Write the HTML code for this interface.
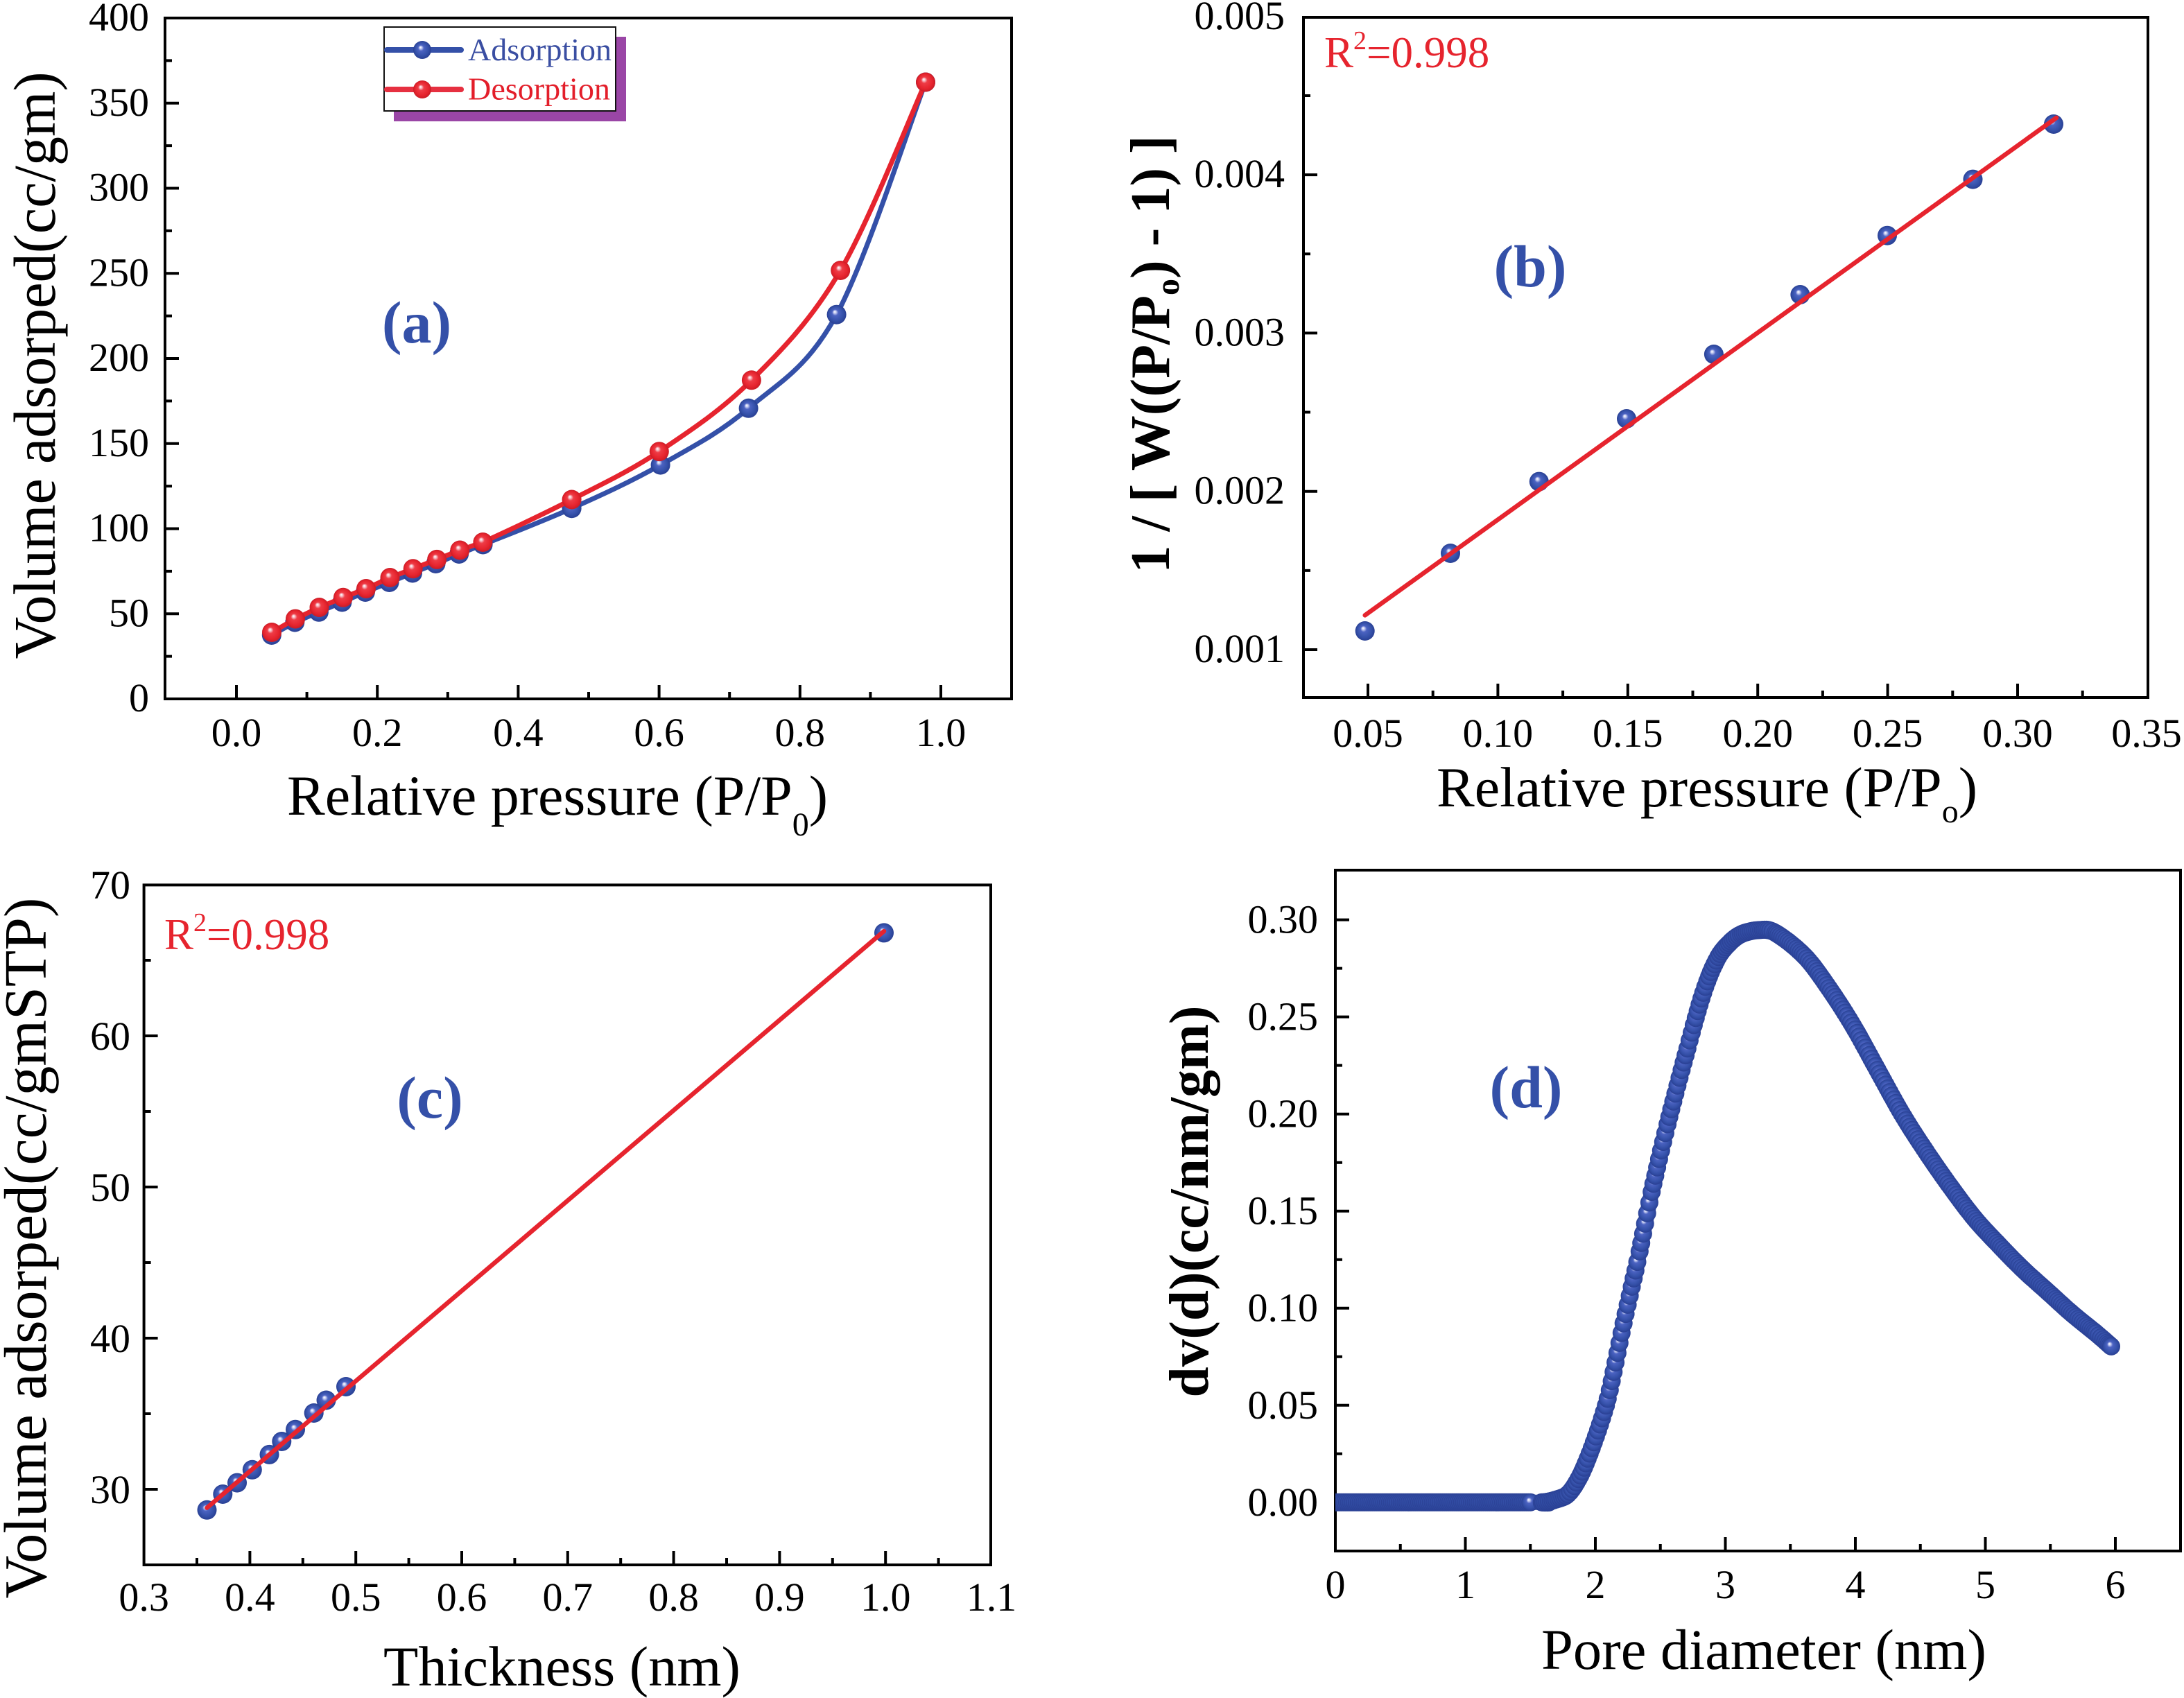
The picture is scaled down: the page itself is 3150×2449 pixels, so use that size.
<!DOCTYPE html>
<html><head><meta charset="utf-8"><style>
html,body{margin:0;padding:0;background:#fff;}
svg{display:block;}
text{font-family:"Liberation Serif","Times New Roman",serif;fill:#000;}
</style></head><body>
<svg width="3150" height="2449" viewBox="0 0 3150 2449" font-family="'Liberation Serif', 'Times New Roman', serif">
<defs>
<radialGradient id="gb" cx="0.5" cy="0.5" r="0.5" fx="0.4" fy="0.35">
<stop offset="0" stop-color="#ffffff"/><stop offset="0.13" stop-color="#c9cff2"/><stop offset="0.32" stop-color="#4c63c2"/><stop offset="0.75" stop-color="#3450a8"/><stop offset="1" stop-color="#293f93"/>
</radialGradient>
<radialGradient id="gr" cx="0.5" cy="0.5" r="0.5" fx="0.4" fy="0.35">
<stop offset="0" stop-color="#ffffff"/><stop offset="0.13" stop-color="#f7c2ca"/><stop offset="0.32" stop-color="#ee3c46"/><stop offset="0.75" stop-color="#e6242e"/><stop offset="1" stop-color="#c91c26"/>
</radialGradient>
<clipPath id="cd"><rect x="1926" y="1255" width="1219" height="982"/></clipPath>
</defs>
<rect x="0" y="0" width="3150" height="2449" fill="#fff"/>

<!-- ================= PANEL A ================= -->
<rect x="238" y="26" width="1221" height="982" fill="none" stroke="#000" stroke-width="4"/>
<path d="M238 885.25h20M238 762.5h20M238 639.75h20M238 517h20M238 394.25h20M238 271.5h20M238 148.75h20
M238 946.6h10M238 823.9h10M238 701.1h10M238 578.4h10M238 455.6h10M238 332.9h10M238 210.1h10M238 87.4h10
M341 1008v-20M544.2 1008v-20M747.4 1008v-20M950.6 1008v-20M1153.8 1008v-20M1357 1008v-20
M442.6 1008v-10M645.8 1008v-10M849 1008v-10M1052.2 1008v-10M1255.4 1008v-10" stroke="#000" stroke-width="4" fill="none"/>
<g font-size="58" text-anchor="end">
<text x="215" y="1026">0</text><text x="215" y="903.25">50</text><text x="215" y="780.5">100</text><text x="215" y="657.75">150</text><text x="215" y="535">200</text><text x="215" y="412.25">250</text><text x="215" y="289.5">300</text><text x="215" y="166.75">350</text><text x="215" y="44">400</text>
</g>
<g font-size="58" text-anchor="middle">
<text x="341" y="1076">0.0</text><text x="544.2" y="1076">0.2</text><text x="747.4" y="1076">0.4</text><text x="950.6" y="1076">0.6</text><text x="1153.8" y="1076">0.8</text><text x="1357" y="1076">1.0</text>
</g>
<text x="414" y="1175" font-size="82">Relative pressure (P/P<tspan font-size="48" dy="30">0</tspan><tspan dy="-30">)</tspan></text>
<text transform="translate(79,527) rotate(-90)" text-anchor="middle" font-size="86" textLength="847" lengthAdjust="spacingAndGlyphs">Volume adsorped(cc/gm)</text>

<path d="M391.8 916 L425.3 897.5 L459.9 882.8 L493.4 868.5 L526.9 854 L561.5 840 L595 826.5 L628.5 813 L662.1 799 L696.6 785.5 C723.7 774.5 781.9 752.4 824.6 733.2 C867.3 714.1 910.1 694.7 952.6 670.6 C995.1 646.5 1037.3 625 1079.6 588.8 C1121.9 552.7 1164 532.1 1206.6 453.7 C1249.2 375.3 1313.6 174.4 1335 118.5" fill="none" stroke="#3450a8" stroke-width="7" stroke-linejoin="round"/>
<g fill="url(#gb)">
<circle cx="391.8" cy="916" r="14"/><circle cx="425.3" cy="897.5" r="14"/><circle cx="459.9" cy="882.8" r="14"/><circle cx="493.4" cy="868.5" r="14"/><circle cx="526.9" cy="854" r="14"/><circle cx="561.5" cy="840" r="14"/><circle cx="595" cy="826.5" r="14"/><circle cx="628.5" cy="813" r="14"/><circle cx="662.1" cy="799" r="14"/><circle cx="696.6" cy="785.5" r="14"/><circle cx="824.6" cy="733.2" r="14"/><circle cx="952.6" cy="670.6" r="14"/><circle cx="1079.6" cy="588.8" r="14"/><circle cx="1206.6" cy="453.7" r="14"/><circle cx="1335" cy="118.5" r="14"/>
</g>
<path d="M392 912 L426 892.6 L460.5 876 L494.9 861.8 L528 849 L562.5 833 L595.7 820.3 L630.1 806.9 L663.3 793.5 L696.4 782 C723.3 769.8 782.2 742.3 824.6 720.5 C867 698.7 907.6 679.9 950.8 651.2 C994 622.5 1040.3 591.8 1083.9 548.3 C1127.5 504.8 1170.4 461.6 1212.2 390 C1254.05 318.4 1314.5 163.8 1335 118.5" fill="none" stroke="#e6242e" stroke-width="7" stroke-linejoin="round"/>
<g fill="url(#gr)">
<circle cx="392" cy="912" r="14"/><circle cx="426" cy="892.6" r="14"/><circle cx="460.5" cy="876" r="14"/><circle cx="494.9" cy="861.8" r="14"/><circle cx="528" cy="849" r="14"/><circle cx="562.5" cy="833" r="14"/><circle cx="595.7" cy="820.3" r="14"/><circle cx="630.1" cy="806.9" r="14"/><circle cx="663.3" cy="793.5" r="14"/><circle cx="696.4" cy="782" r="14"/><circle cx="824.6" cy="720.5" r="14"/><circle cx="950.8" cy="651.2" r="14"/><circle cx="1083.9" cy="548.3" r="14"/><circle cx="1212.2" cy="390" r="14"/><circle cx="1335" cy="118.5" r="14"/>
</g>
<!-- legend -->
<rect x="568" y="53" width="335" height="122" fill="#9a46a6"/>
<rect x="554" y="39" width="334" height="121" fill="#fff" stroke="#111" stroke-width="2"/>
<line x1="558" y1="72" x2="665" y2="72" stroke="#3450a8" stroke-width="8" stroke-linecap="round"/>
<circle cx="609" cy="72" r="13" fill="url(#gb)"/>
<line x1="558" y1="129" x2="665" y2="129" stroke="#e63040" stroke-width="8" stroke-linecap="round"/>
<circle cx="609" cy="129" r="13" fill="url(#gr)"/>
<text x="675" y="87" font-size="46" style="fill:#3a4ea2" textLength="207" lengthAdjust="spacingAndGlyphs">Adsorption</text>
<text x="675" y="143.5" font-size="46" style="fill:#e31e2a" textLength="205" lengthAdjust="spacingAndGlyphs">Desorption</text>
<text x="601" y="494" font-size="86" font-weight="bold" text-anchor="middle" style="fill:#3450a8">(a)</text>

<!-- ================= PANEL B ================= -->
<rect x="1880" y="25" width="1218" height="981" fill="none" stroke="#000" stroke-width="4"/>
<path d="M1880 937h20M1880 708.7h20M1880 480.4h20M1880 252.1h20
M1880 822.85h10M1880 594.55h10M1880 366.25h10M1880 137.95h10
M1973 1006v-20M2160.4 1006v-20M2347.8 1006v-20M2535.2 1006v-20M2722.6 1006v-20M2910 1006v-20
M2066.7 1006v-10M2254.1 1006v-10M2441.5 1006v-10M2628.9 1006v-10M2816.3 1006v-10M3003.7 1006v-10" stroke="#000" stroke-width="4" fill="none"/>
<g font-size="58" text-anchor="end">
<text x="1853" y="955">0.001</text><text x="1853" y="726.7">0.002</text><text x="1853" y="498.4">0.003</text><text x="1853" y="270.1">0.004</text><text x="1853" y="41.8">0.005</text>
</g>
<g font-size="58" text-anchor="middle">
<text x="1973" y="1077">0.05</text><text x="2160.4" y="1077">0.10</text><text x="2347.8" y="1077">0.15</text><text x="2535.2" y="1077">0.20</text><text x="2722.6" y="1077">0.25</text><text x="2910" y="1077">0.30</text><text x="3096" y="1077">0.35</text>
</g>
<text x="2072" y="1163" font-size="82">Relative pressure (P/P<tspan font-size="48" dy="23">o</tspan><tspan dy="-23">)</tspan></text>
<text transform="translate(1686,511) rotate(-90)" text-anchor="middle" font-size="80" font-weight="bold">1 / [ W((P/P<tspan font-size="48" dy="14">o</tspan><tspan dy="-14">) - 1) ]</tspan></text>
<text x="1910" y="97" font-size="63" style="fill:#e6242e">R<tspan font-size="38" dy="-26">2</tspan><tspan dy="26">=0.998</tspan></text>
<text x="2207" y="413" font-size="86" font-weight="bold" text-anchor="middle" style="fill:#3450a8">(b)</text>
<g fill="url(#gb)">
<circle cx="1968.7" cy="910" r="14"/><circle cx="2092" cy="798" r="14"/><circle cx="2219.8" cy="694.6" r="14"/><circle cx="2346" cy="604" r="14"/><circle cx="2471.9" cy="511" r="14"/><circle cx="2596.4" cy="425" r="14"/><circle cx="2722" cy="339.7" r="14"/><circle cx="2845.5" cy="258.6" r="14"/><circle cx="2962" cy="179" r="14"/>
</g>
<line x1="1968.7" y1="887.4" x2="2966" y2="169.8" stroke="#e6242e" stroke-width="6.5" stroke-linecap="round"/>

<!-- ================= PANEL C ================= -->
<rect x="207.6" y="1276.4" width="1221.4" height="980.6" fill="none" stroke="#000" stroke-width="4"/>
<path d="M207.6 2148h20M207.6 1930h20M207.6 1712h20M207.6 1494h20
M207.6 2039h10M207.6 1821h10M207.6 1603h10M207.6 1385h10
M360.4 2257v-20M513.2 2257v-20M666 2257v-20M818.8 2257v-20M971.6 2257v-20M1124.4 2257v-20M1277.2 2257v-20
M284 2257v-10M436.8 2257v-10M589.6 2257v-10M742.4 2257v-10M895.2 2257v-10M1048 2257v-10M1200.8 2257v-10M1353.6 2257v-10" stroke="#000" stroke-width="4" fill="none"/>
<g font-size="58" text-anchor="end">
<text x="188" y="2168">30</text><text x="188" y="1950">40</text><text x="188" y="1732">50</text><text x="188" y="1514">60</text><text x="188" y="1296">70</text>
</g>
<g font-size="58" text-anchor="middle">
<text x="207.6" y="2323">0.3</text><text x="360.4" y="2323">0.4</text><text x="513.2" y="2323">0.5</text><text x="666" y="2323">0.6</text><text x="818.8" y="2323">0.7</text><text x="971.6" y="2323">0.8</text><text x="1124.4" y="2323">0.9</text><text x="1277.2" y="2323">1.0</text><text x="1430" y="2323">1.1</text>
</g>
<text x="553" y="2431" font-size="82" textLength="515" lengthAdjust="spacingAndGlyphs">Thickness (nm)</text>
<text transform="translate(66,1800) rotate(-90)" text-anchor="middle" font-size="87" textLength="1011" lengthAdjust="spacingAndGlyphs">Volume adsorped(cc/gmSTP)</text>
<text x="237" y="1369" font-size="63" style="fill:#e6242e">R<tspan font-size="38" dy="-26">2</tspan><tspan dy="26">=0.998</tspan></text>
<text x="620" y="1612" font-size="86" font-weight="bold" text-anchor="middle" style="fill:#3450a8">(c)</text>
<g fill="url(#gb)">
<circle cx="298.5" cy="2177.8" r="14"/><circle cx="321.3" cy="2155" r="14"/><circle cx="342" cy="2138.6" r="14"/><circle cx="363.8" cy="2119.8" r="14"/><circle cx="388.5" cy="2097.9" r="14"/><circle cx="406.3" cy="2079" r="14"/><circle cx="426" cy="2061.8" r="14"/><circle cx="452.7" cy="2038" r="14"/><circle cx="470.5" cy="2019.5" r="14"/><circle cx="499" cy="2000" r="14"/><circle cx="1275" cy="1345.4" r="14"/>
</g>
<line x1="298.5" y1="2174.7" x2="1275" y2="1343" stroke="#e6242e" stroke-width="6.5" stroke-linecap="round"/>

<!-- ================= PANEL D ================= -->
<rect x="1926" y="1255" width="1219" height="982" fill="none" stroke="#000" stroke-width="4"/>
<path d="M1926 2166.8h20M1926 2026.8h20M1926 1886.7h20M1926 1746.7h20M1926 1606.7h20M1926 1466.6h20M1926 1326.6h20
M1926 2096.8h10M1926 1956.7h10M1926 1816.7h10M1926 1676.7h10M1926 1536.6h10M1926 1396.6h10
M2113.5 2237v-20M2301 2237v-20M2488.5 2237v-20M2676 2237v-20M2863.5 2237v-20M3051 2237v-20
M2019.75 2237v-10M2207.25 2237v-10M2394.75 2237v-10M2582.25 2237v-10M2769.75 2237v-10M2957.25 2237v-10" stroke="#000" stroke-width="4" fill="none"/>
<g font-size="58" text-anchor="end">
<text x="1901" y="2185.8">0.00</text><text x="1901" y="2045.8">0.05</text><text x="1901" y="1905.7">0.10</text><text x="1901" y="1765.7">0.15</text><text x="1901" y="1625.7">0.20</text><text x="1901" y="1485.6">0.25</text><text x="1901" y="1345.6">0.30</text>
</g>
<g font-size="58" text-anchor="middle">
<text x="1926" y="2305">0</text><text x="2113.5" y="2305">1</text><text x="2301" y="2305">2</text><text x="2488.5" y="2305">3</text><text x="2676" y="2305">4</text><text x="2863.5" y="2305">5</text><text x="3051" y="2305">6</text>
</g>
<text x="2223" y="2407" font-size="83" textLength="642" lengthAdjust="spacingAndGlyphs">Pore diameter (nm)</text>
<text transform="translate(1742,1733) rotate(-90)" text-anchor="middle" font-size="80" font-weight="bold" textLength="565" lengthAdjust="spacingAndGlyphs">dv(d)(cc/nm/gm)</text>
<text x="2201" y="1597" font-size="86" font-weight="bold" text-anchor="middle" style="fill:#3450a8">(d)</text>
<g clip-path="url(#cd)">
<path d="M1913 2166.8 L2207 2166.8 L2226 2166.8 L2244.8 2162.6 L2261.4 2155 L2276.6 2133.2 L2289.9 2103.8 L2304.8 2063.2 L2318.8 2017.5 L2330 1965.1 L2341.7 1908.6 L2353.5 1855.9 L2364.8 1805 L2382.2 1719 L2405.1 1621.5 L2433.8 1512.3 L2456.6 1431.9 L2475.4 1385.4 L2491.5 1363 L2511 1347.6 L2537.1 1341.4 L2560.5 1345.3 L2602.7 1378.9 L2637.8 1425.2 L2672.8 1479.8 L2707.9 1543.1 L2742.9 1606.1 L2778 1661 L2813.1 1711.4 L2848.1 1757.6 L2883.2 1795.7 L2918.3 1831.3 L2953.3 1862.9 L2988.4 1894.6 L3023.4 1923.1 L3045 1941.9" fill="none" stroke="#3550ab" stroke-width="22" stroke-linejoin="round" stroke-linecap="round"/>
<g id="dmk"></g>
</g>
</svg>
<script>
(function(){
var P=[[0,0],[1.5,0],[1.6,0],[1.7,0.0015],[1.789,0.0042],[1.87,0.012],[1.941,0.0225],[2.02,0.037],[2.095,0.0533],[2.155,0.072],[2.217,0.0922],[2.28,0.111],[2.34,0.1292],[2.433,0.1599],[2.555,0.1947],[2.708,0.2337],[2.83,0.2624],[2.93,0.279],[3.016,0.287],[3.12,0.2925],[3.259,0.2947],[3.384,0.2933],[3.609,0.2813],[3.796,0.2648],[3.983,0.2453],[4.17,0.2227],[4.357,0.2002],[4.544,0.1806],[4.731,0.1626],[4.918,0.1461],[5.105,0.1325],[5.292,0.1198],[5.479,0.1085],[5.666,0.0972],[5.853,0.087],[5.968,0.0803]];
var n=P.length;
function px(p){return [1926+p[0]*187.5, 2166.8-p[1]*2800.7];}
var Q=[];for(var i=0;i<n;i++)Q.push(px(P[i]));
function cr(a,b,c,d,t){var t2=t*t,t3=t2*t;return 0.5*(2*b+(-a+c)*t+(2*a-5*b+4*c-d)*t2+(-a+3*b-3*c+d)*t3);}
var s='';
for(var i=0;i<n-1;i++){
  var steps=Math.max(1,Math.round((P[i+1][0]-P[i][0])/0.015));
  var p0=Q[Math.max(i-1,0)],p1=Q[i],p2=Q[i+1],p3=Q[Math.min(i+2,n-1)];
  for(var k=0;k<steps;k++){
    var t=k/steps,x,y;
    if(i===0){x=p1[0]+(p2[0]-p1[0])*t;y=p1[1];}
    else{x=cr(p0[0],p1[0],p2[0],p3[0],t);y=cr(p0[1],p1[1],p2[1],p3[1],t);}
    s+='<circle cx="'+x.toFixed(1)+'" cy="'+y.toFixed(1)+'" r="13" fill="url(#gb)"/>';
  }
}
var L=Q[n-1];
s+='<circle cx="'+L[0].toFixed(1)+'" cy="'+L[1].toFixed(1)+'" r="13" fill="url(#gb)"/>';
var g=document.getElementById('dmk');
if(g){g.innerHTML=s;}
})();
</script>
</body></html>
